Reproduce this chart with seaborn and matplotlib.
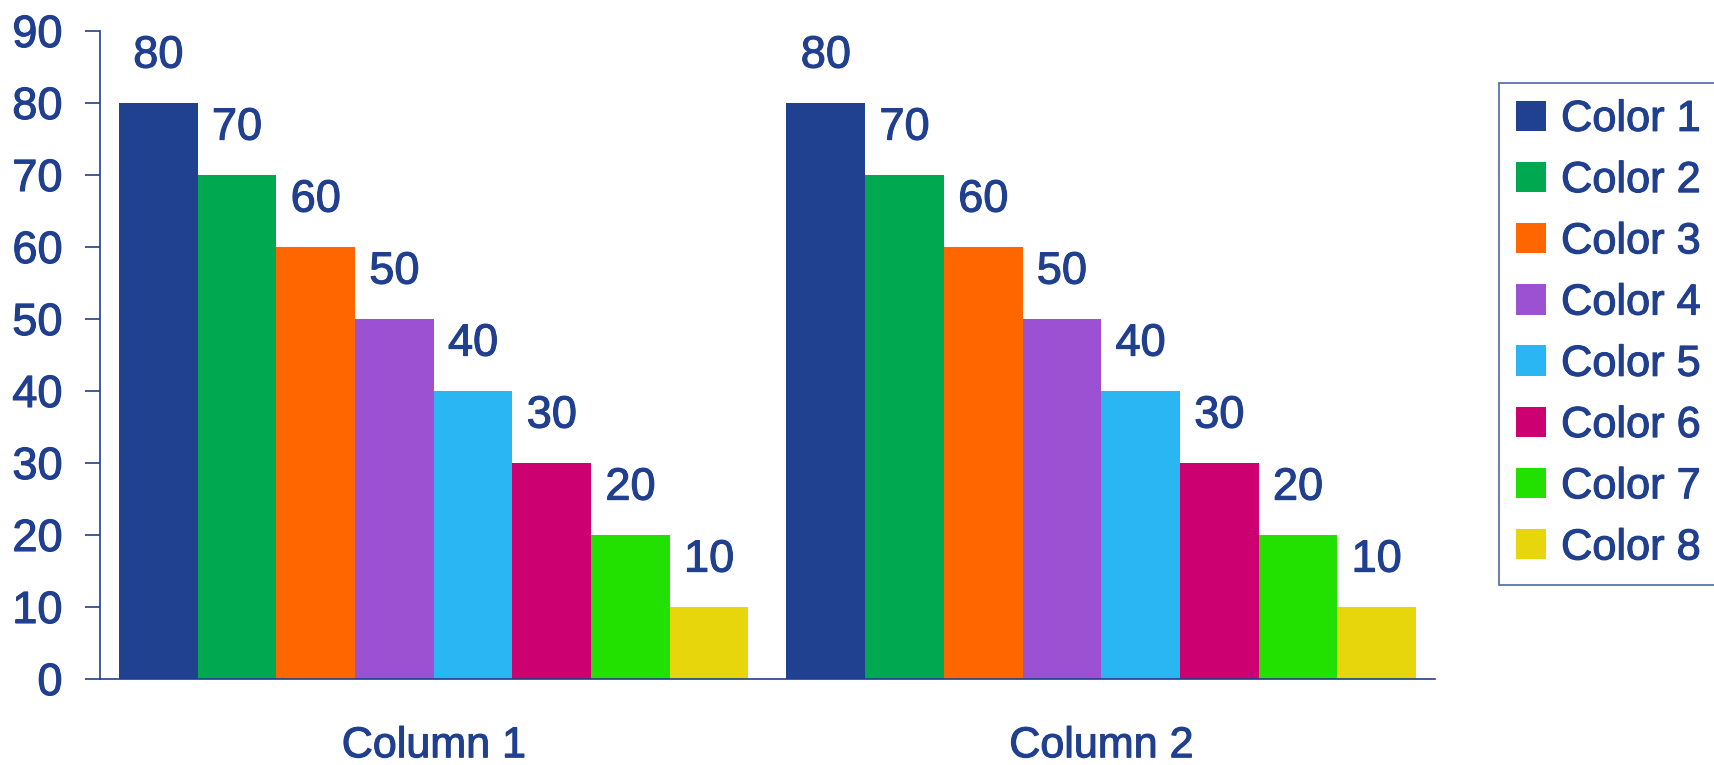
import matplotlib
matplotlib.use("Agg")
import matplotlib.pyplot as plt
import matplotlib.patheffects as pe
import seaborn as sns
import pandas as pd

# Chart data
columns = ["Column 1", "Column 2"]
series = ["Color 1", "Color 2", "Color 3", "Color 4",
          "Color 5", "Color 6", "Color 7", "Color 8"]
column_1_values = [80, 70, 60, 50, 40, 30, 20, 10]
column_2_values = [80, 70, 60, 50, 40, 30, 20, 10]
y_ticks = [0, 10, 20, 30, 40, 50, 60, 70, 80, 90]

palette = ["#1F4190", "#00A950", "#FF6600", "#9B51D2",
           "#29B6F2", "#CC0070", "#22E000", "#E8D60C"]
ink = "#203F8F"

df = pd.DataFrame({
    "column": [c for c in columns for _ in series],
    "series": series * len(columns),
    "value": column_1_values + column_2_values,
})

sns.set_theme(style="white")
plt.rcParams["font.family"] = ["Liberation Sans", "DejaVu Sans"]

# slightly heavier glyphs for all text
heavy = [pe.withStroke(linewidth=0.8, foreground=ink)]

fig = plt.figure(figsize=(17.14, 7.65), dpi=100)
ax = fig.add_axes([0.0583, 0.1124, 0.7789, 0.8471])

sns.barplot(data=df, x="column", y="value", hue="series",
            order=columns, hue_order=series, palette=palette,
            width=0.943, dodge=True, saturation=1, linewidth=0,
            errorbar=None, ax=ax)

for container in ax.containers:
    for t in ax.bar_label(container, padding=19, fontsize=32.5, color=ink):
        t.set_path_effects(heavy)

ax.set_xlim(-0.5, 1.5)
ax.set_ylim(0, 90)
ax.set_yticks(y_ticks)
ax.set_xlabel("")
ax.set_ylabel("")

for side in ("top", "right"):
    ax.spines[side].set_visible(False)
for side in ("left", "bottom"):
    ax.spines[side].set_color(ink)
    ax.spines[side].set_linewidth(1.2)

ax.tick_params(axis="y", direction="out", length=11, width=1.2,
               color=ink, labelcolor=ink, labelsize=32.5, pad=16, left=True)
ax.tick_params(axis="x", length=0, labelcolor=ink, labelsize=31, pad=34)
for t in ax.get_xticklabels() + ax.get_yticklabels():
    t.set_path_effects(heavy)

handles, labels = ax.get_legend_handles_labels()
ax.get_legend().remove()
leg = fig.legend(handles, labels, loc="upper left",
                 bbox_to_anchor=(0.8746, 0.891), bbox_transform=fig.transFigure,
                 fontsize=31.2, frameon=True, fancybox=False,
                 handlelength=0.7, handleheight=0.7, handletextpad=0.35,
                 labelspacing=0.49, borderpad=0.38, borderaxespad=0)
frame = leg.get_frame()
frame.set_edgecolor(ink)
frame.set_linewidth(1.2)
for t in leg.get_texts():
    t.set_color(ink)
    t.set_path_effects(heavy)

fig.savefig("out.png", dpi=100)
